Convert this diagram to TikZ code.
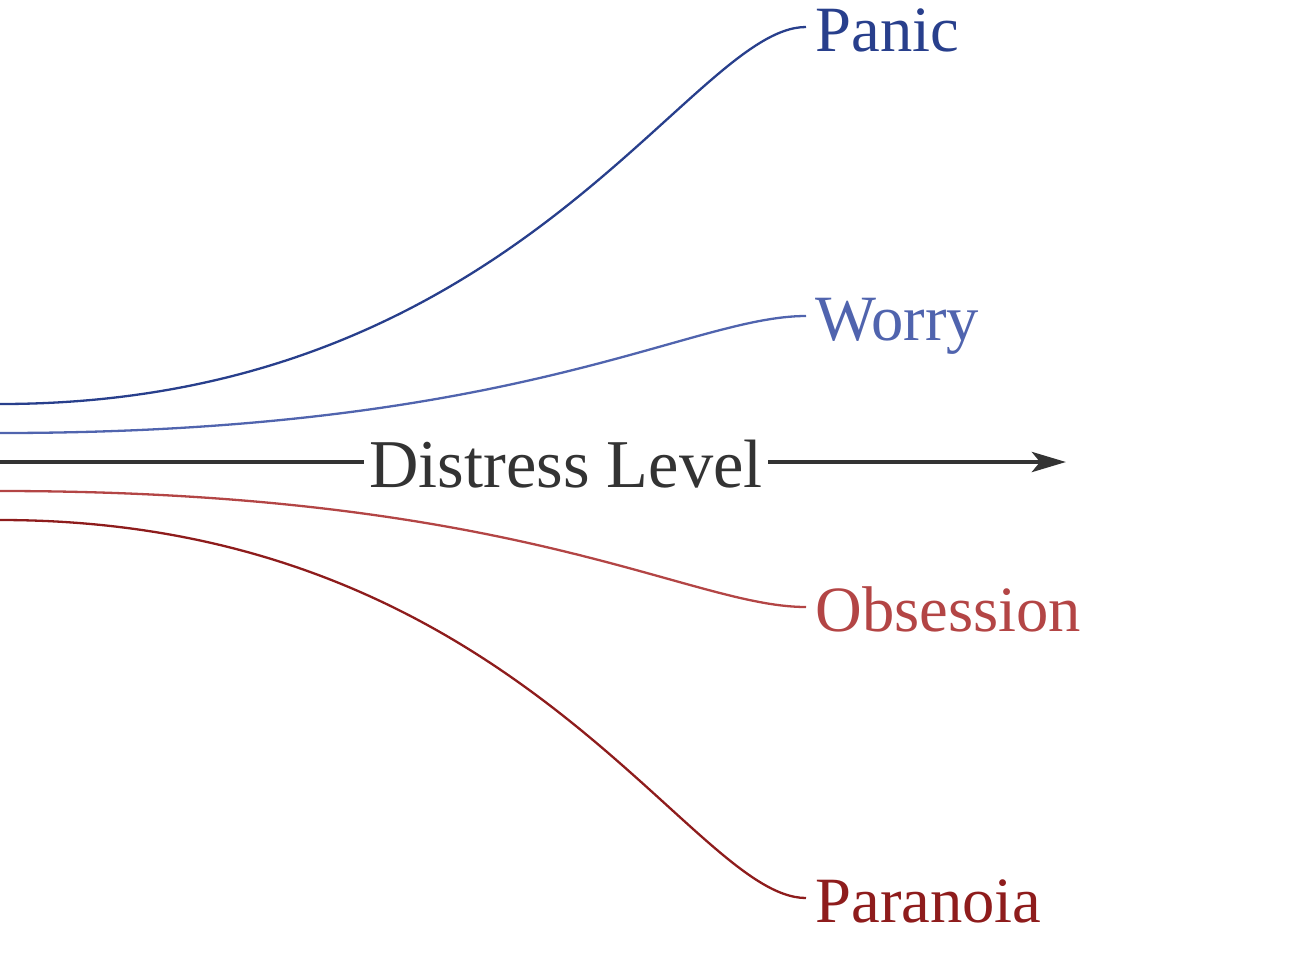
\documentclass[tikz,border=0pt]{standalone}
\usepackage{fontspec}
\setmainfont{Liberation Serif}
\usetikzlibrary{arrows.meta}
\definecolor{panicc}{HTML}{283F8C}
\definecolor{worryc}{HTML}{5064AE}
\definecolor{obsessc}{HTML}{B34545}
\definecolor{paranc}{HTML}{8E1C1C}
\definecolor{axisc}{HTML}{333333}
\tikzset{
  lab/.style={anchor=west, inner sep=4.5pt, text height=24pt, text depth=0pt,
    font=\fontsize{32.3}{40}\selectfont},
  axislab/.style={inner sep=2.5pt, text height=25pt, text depth=0pt,
    text=axisc, font=\fontsize{34.2}{42}\selectfont},
  curve/.style={line width=1.15pt},
  axisline/.style={draw=axisc, line width=2.4pt},
}
\begin{document}
\begin{tikzpicture}[x=0.5pt,y=-0.5pt]
\useasboundingbox (0,0) rectangle (1290,960);
% labels
\node[lab, text=panicc] (panic) at (806,27) {Panic};
\node[lab, text=worryc] (worry) at (806,316) {Worry};
\node[lab, text=obsessc] (obsess) at (806,607) {Obsession};
\node[lab, text=paranc] (paran) at (806,898) {Paranoia};
\node[axislab] (dl) at (566,462) {Distress Level};
% start points
\coordinate (ps) at (0,404);
\coordinate (ws) at (0,433);
\coordinate (os) at (0,491);
\coordinate (rs) at (0,520);
\coordinate (axs) at (0,462);
\coordinate (axe) at (1066,462);
% curves
\draw[curve, panicc] (ps) .. controls (520,404) and (690,27) .. (panic.west);
\draw[curve, worryc] (ws) .. controls (520,433) and (690,316) .. (worry.west);
\draw[curve, obsessc] (os) .. controls (520,491) and (690,607) .. (obsess.west);
\draw[curve, paranc] (rs) .. controls (520,520) and (690,898) .. (paran.west);
% axis
\draw[axisline] (axs) -- (dl.west);
\draw[axisline, -{Stealth[length=17pt, width=10pt, inset=4pt]}] (dl.east) -- (axe);
\end{tikzpicture}
\end{document}
